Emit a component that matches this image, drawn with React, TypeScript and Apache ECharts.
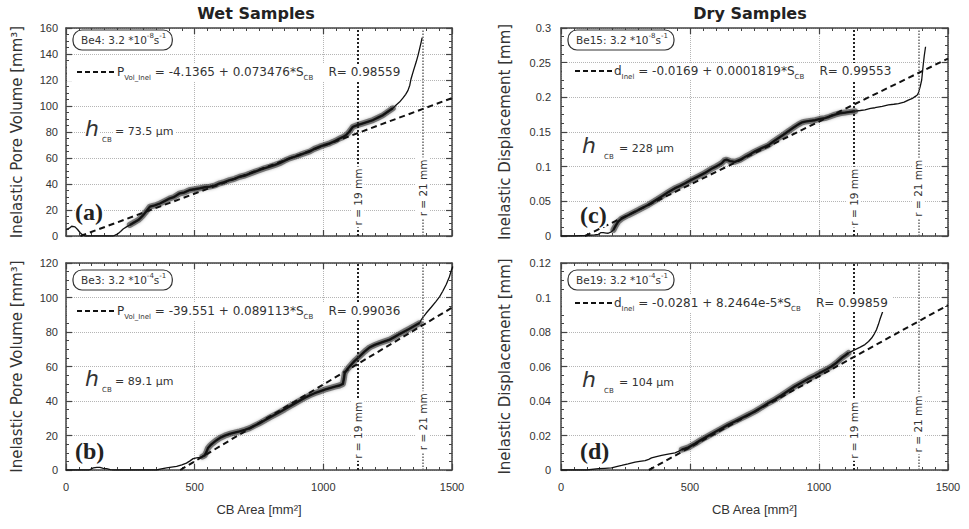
import React, { useEffect, useRef } from "react";
import * as echarts from "echarts";

// ---------- DATA ----------
// Panel (a) Be4, wet: CB area [mm^2] vs inelastic pore volume [mm^3]
const be4Curve: number[][] = [
  [0, 5], [13, 6], [22, 7.5], [35, 7], [45, 5], [55, 2.5], [65, 0.8], [75, 0], [120, 0], [184, 0],
  [195, 1], [203, 2], [212, 3.5], [222, 5.4], [235, 7], [248, 8.5], [265, 10.5], [281, 12.3], [290, 14],
  [300, 16], [312, 19], [326, 22.6], [345, 23.5], [365, 25], [385, 27], [404, 29], [420, 30], [442, 32.8],
  [460, 33.5], [481, 35.4], [500, 36], [520, 36.7], [540, 37.5], [559, 38], [580, 39], [598, 40.5],
  [615, 41.5], [636, 43], [655, 44], [675, 45.6], [695, 46.5], [714, 48], [735, 49.5], [753, 50.8],
  [770, 52], [792, 53.3], [810, 54.5], [830, 56], [850, 58], [869, 59.7], [890, 61], [908, 62.3],
  [925, 63.5], [947, 65], [965, 67], [986, 68.7], [1005, 70], [1025, 71.3], [1045, 73], [1063, 75],
  [1075, 76], [1089, 77.7], [1100, 80], [1115, 84], [1135, 85.5], [1154, 86.7], [1175, 88], [1193, 89.2],
  [1212, 91], [1232, 93], [1250, 95.5], [1270, 98.2], [1283, 100.8], [1296, 103], [1309, 106], [1320, 109],
  [1329, 112], [1336, 116], [1341, 121], [1350, 127], [1361, 134], [1368, 139], [1374, 144], [1380, 149],
  [1384, 152.6],
];
// Panel (c) Be15, dry: CB area vs inelastic displacement [mm]
const be15Curve: number[][] = [
  [0, 0], [50, 0], [106, 0.001], [130, 0.0015], [145, 0.0024], [155, 0.005], [164, 0.005], [175, 0.0042],
  [183, 0.004], [195, 0.006], [203, 0.0087], [212, 0.015], [222, 0.021], [235, 0.025], [260, 0.03],
  [287, 0.035], [313, 0.04], [339, 0.045], [365, 0.051], [390, 0.057], [415, 0.063], [442, 0.069],
  [460, 0.072], [481, 0.076], [505, 0.081], [532, 0.086], [558, 0.091], [584, 0.097], [600, 0.1],
  [623, 0.105], [633, 0.109], [642, 0.11], [655, 0.108], [674, 0.107], [695, 0.11], [713, 0.114],
  [733, 0.118], [752, 0.122], [780, 0.127], [804, 0.131], [822, 0.136], [842, 0.141], [862, 0.146],
  [881, 0.151], [900, 0.156], [920, 0.161], [935, 0.164], [946, 0.165], [965, 0.166], [985, 0.167],
  [1005, 0.169], [1023, 0.17], [1040, 0.172], [1062, 0.175], [1080, 0.177], [1101, 0.178], [1120, 0.179],
  [1140, 0.18], [1160, 0.181], [1178, 0.182], [1200, 0.184], [1217, 0.185], [1245, 0.187], [1269, 0.189],
  [1290, 0.19], [1308, 0.191], [1330, 0.193], [1346, 0.196], [1360, 0.198], [1372, 0.201], [1380, 0.203],
  [1385, 0.206], [1392, 0.215], [1398, 0.225], [1401, 0.236], [1404, 0.247], [1408, 0.26], [1413, 0.273],
];
// Panel (b) Be3, wet
const be3Curve: number[][] = [
  [0, 0], [90, 0], [106, 1.2], [120, 1.5], [132, 1.5], [145, 1], [158, 0.8], [172, 0.2], [184, 0], [250, 0],
  [300, 0], [352, 0], [370, 0.6], [391, 1.2], [410, 1.7], [430, 2.1], [450, 3], [468, 4], [482, 5.3],
  [494, 6.6], [507, 7], [520, 7.3], [530, 7.8], [539, 8.5], [546, 10.5], [552, 12.8], [562, 14.5],
  [572, 15.7], [585, 17.3], [598, 18.6], [617, 19.9], [636, 20.9], [655, 21.7], [675, 22.4], [695, 23.3],
  [714, 24.3], [733, 25.7], [753, 27.2], [772, 28.8], [792, 30.5], [811, 32], [831, 33.6], [850, 35.2],
  [869, 36.9], [888, 38.5], [908, 40.2], [927, 41.8], [947, 43.3], [966, 44.5], [986, 45.6], [1005, 46.6],
  [1025, 47.5], [1045, 48.3], [1063, 49], [1076, 49.9], [1080, 53], [1083, 56.2], [1092, 58.2], [1102, 60],
  [1120, 63], [1141, 65.9], [1160, 68.6], [1180, 71.1], [1200, 72.5], [1219, 73.6], [1238, 74.6],
  [1258, 75.6], [1277, 77.2], [1296, 78.8], [1315, 80.3], [1335, 81.9], [1355, 83.6], [1374, 85.2],
  [1380, 87], [1390, 89], [1400, 91], [1420, 94.5], [1438, 97.8], [1452, 100.5], [1464, 103.6],
  [1478, 107.7], [1490, 112], [1498, 116], [1503, 118],
];
// Panel (d) Be19, dry
const be19Curve: number[][] = [
  [0, 0], [100, 0], [145, 0.0008], [170, 0.001], [196, 0.0012], [215, 0.002], [235, 0.0027], [260, 0.0036],
  [287, 0.0046], [305, 0.005], [326, 0.0054], [340, 0.0062], [351, 0.007], [370, 0.0078], [390, 0.0085],
  [415, 0.0092], [442, 0.0099], [455, 0.0108], [468, 0.0118], [480, 0.0124], [494, 0.0131], [520, 0.0153],
  [545, 0.0176], [571, 0.0198], [597, 0.022], [623, 0.0241], [649, 0.0263], [675, 0.0282], [700, 0.0301],
  [726, 0.032], [752, 0.034], [778, 0.0364], [804, 0.0388], [830, 0.041], [855, 0.0433], [881, 0.0459],
  [907, 0.0485], [933, 0.0507], [959, 0.0529], [985, 0.0548], [1010, 0.0568], [1030, 0.0584],
  [1049, 0.0601], [1068, 0.0622], [1088, 0.0649], [1100, 0.0662], [1114, 0.0678], [1127, 0.0688],
  [1140, 0.0698], [1160, 0.0712], [1178, 0.0727], [1192, 0.0745], [1204, 0.0765], [1214, 0.0788],
  [1223, 0.0814], [1230, 0.0843], [1236, 0.0872], [1246, 0.0915], [1256, 0.0958], [1263, 0.0985],
  [1269, 0.1007],
];

// Panel order: (a) top-left, (c) top-right, (b) bottom-left, (d) bottom-right
const curves = [be4Curve, be15Curve, be3Curve, be19Curve];
const fitIntercepts = [-4.1365, -0.0169, -39.551, -0.0281];
const fitSlopes = [0.073476, 0.0001819, 0.089113, 8.2464e-5];
const fitEquations = [
  " = -4.1365 + 0.073476*S",
  " = -0.0169 + 0.0001819*S",
  " = -39.551 + 0.089113*S",
  " = -0.0281 + 8.2464e-5*S",
];
const fitR = ["0.98559", "0.99553", "0.99036", "0.99859"];
const fitSymbols = ["P", "d", "P", "d"];
const fitSubscripts = ["Vol_Inel", "Inel", "Vol_Inel", "Inel"];
const sampleNames = ["Be4", "Be15", "Be3", "Be19"];
const rateExponents = ["-8", "-8", "-4", "-4"];
const hcbValues = ["= 73.5 µm", "= 228 µm", "= 89.1 µm", "= 104 µm"];
const panelLetters = ["(a)", "(c)", "(b)", "(d)"];
const yMaxes = [160, 0.3, 120, 0.12];
const yIntervals = [20, 0.05, 20, 0.02];
const xMax = 1500;
const xInterval = 500;
const haloRanges = [[240, 1270], [200, 1140], [530, 1374], [468, 1114]];
const ringRadii = [19, 21];
const ringLabels = ["r = 19 mm", "r = 21 mm"];
const ringLabelY = [[30, 37], [0.056, 0.069], [23, 28], [0.023, 0.0267]];
const columnTitles = ["Wet Samples", "Dry Samples"];
const yNames = [
  "Inelastic Pore Volume [mm³]",
  "Inelastic Displacement [mm]",
  "Inelastic Pore Volume [mm³]",
  "Inelastic Displacement [mm]",
];
const xName = "CB Area [mm²]";

// ---------- LAYOUT ----------
const GRIDS = [
  { left: 66, top: 28, width: 386, height: 208 },
  { left: 561, top: 28, width: 387, height: 208 },
  { left: 66, top: 263, width: 386, height: 207 },
  { left: 561, top: 263, width: 387, height: 207 },
];
const ANN = [
  { boxX: 73, boxY: 30, legY: 72, legX1: 77, legX2: 115, legText: 117, hX: 85, hY: 128, subDx: 17, valDx: 28, letX: 75, letY: 212 },
  { boxX: 568, boxY: 30, legY: 71, legX1: 575, legX2: 612, legText: 614, hX: 582, hY: 145, subDx: 22, valDx: 35, letX: 580, letY: 215 },
  { boxX: 73, boxY: 270, legY: 311, legX1: 77, legX2: 115, legText: 117, hX: 85, hY: 378, subDx: 17, valDx: 28, letX: 75, letY: 451 },
  { boxX: 568, boxY: 270, legY: 303, legX1: 575, legX2: 612, legText: 614, hX: 582, hY: 379, subDx: 22, valDx: 35, letX: 580, letY: 451 },
];

const SANS = "DejaVu Sans";
const AX_FONT = "Liberation Sans";
const INK = "#333";
const ringAreas = ringRadii.map((r) => Math.PI * r * r);

let measureCtx: CanvasRenderingContext2D | null = null;
function measure(text: string, size: number, family = SANS, weight = "normal", style = "normal") {
  if (!measureCtx) measureCtx = document.createElement("canvas").getContext("2d");
  if (!measureCtx) return text.length * size * 0.6;
  measureCtx.font = `${style} ${weight} ${size}px "${family}"`;
  return measureCtx.measureText(text).width;
}

function txt(x: number, y: number, text: string, size: number, o: any = {}) {
  return {
    type: "text",
    x,
    y,
    rotation: o.rotation || 0,
    z: 100,
    silent: true,
    style: {
      text,
      fontSize: size,
      fontFamily: o.family || SANS,
      fontWeight: o.weight || "normal",
      fontStyle: o.style || "normal",
      fill: o.color || INK,
      align: o.align || "left",
      textAlign: o.align || "left",
      verticalAlign: "middle",
      textVerticalAlign: "middle",
      backgroundColor: o.bg,
      padding: o.pad,
    },
  };
}

function chain(x: number, y: number, parts: [string, number, number][]) {
  const els: any[] = [];
  let cx = x;
  for (const [t, s, dy] of parts) {
    els.push(txt(cx, y + dy, t, s));
    cx += measure(t, s);
  }
  return { els, end: cx };
}

function buildOption() {
  const xAxis: any[] = [];
  const yAxis: any[] = [];
  const series: any[] = [];
  const graphic: any[] = [];
  const axisLine = { show: true, onZero: false, lineStyle: { color: "#444", width: 1.5 } };
  const axisTick = { show: true, inside: true, length: 6, lineStyle: { color: "#444", width: 1.2 } };
  const minorLine = { color: "#444", width: 1 };

  GRIDS.forEach((g, i) => {
    const bottomRow = i >= 2;
    xAxis.push({
      gridIndex: i, type: "value", min: 0, max: xMax, interval: xInterval, position: "bottom",
      axisLine, axisTick,
      minorTick: { show: true, splitNumber: 10, length: 3, lineStyle: minorLine },
      axisLabel: {
        show: bottomRow, margin: 11, fontSize: 11, color: INK, fontFamily: AX_FONT,
        formatter: (v: number) => String(v),
      },
      splitLine: { show: true, lineStyle: { color: "#b5b5b5", type: "dotted", width: 1 } },
      name: bottomRow ? xName : "", nameLocation: "middle", nameGap: 33,
      nameTextStyle: { fontSize: 13, color: INK, fontFamily: AX_FONT },
    });
    xAxis.push({
      gridIndex: i, type: "value", min: 0, max: xMax, interval: xInterval, position: "top",
      axisLine, axisTick,
      minorTick: { show: true, splitNumber: 10, length: 3, lineStyle: minorLine },
      axisLabel: { show: false }, splitLine: { show: false },
    });
    yAxis.push({
      gridIndex: i, type: "value", min: 0, max: yMaxes[i], interval: yIntervals[i], position: "left",
      axisLine, axisTick,
      minorTick: { show: true, splitNumber: 4, length: 3, lineStyle: minorLine },
      axisLabel: { show: true, margin: i % 2 === 0 ? 8 : 10, fontSize: 11, color: INK, fontFamily: AX_FONT },
      splitLine: { show: true, lineStyle: { color: "#b5b5b5", type: "dotted", width: 1 } },
      name: yNames[i], nameLocation: "middle", nameGap: i % 2 === 0 ? 42 : 49,
      nameTextStyle: { fontSize: 15, color: INK, fontFamily: SANS },
    });
    yAxis.push({
      gridIndex: i, type: "value", min: 0, max: yMaxes[i], interval: yIntervals[i], position: "right",
      axisLine, axisTick,
      minorTick: { show: true, splitNumber: 4, length: 3, lineStyle: minorLine },
      axisLabel: { show: false }, splitLine: { show: false },
    });

    const xi = 2 * i;
    const yi = 2 * i;
    const curve = curves[i];
    const [hLo, hHi] = haloRanges[i];
    const halo = curve.filter((p) => p[0] >= hLo && p[0] <= hHi);
    const a = fitIntercepts[i];
    const b = fitSlopes[i];
    const x0 = Math.max(0, -a / b);
    const fitData = [[x0, a + b * x0], [xMax, a + b * xMax]];

    series.push({
      type: "line", xAxisIndex: xi, yAxisIndex: yi, data: halo, symbol: "none", silent: true, z: 2,
      lineStyle: {
        color: "rgba(40,40,40,0.55)", width: 6, cap: "round", join: "round",
        shadowBlur: 3, shadowColor: "rgba(0,0,0,0.5)",
      },
    });
    series.push({
      type: "line", xAxisIndex: xi, yAxisIndex: yi, data: halo, symbol: "none", silent: true, z: 2,
      lineStyle: { color: "#1a1a1a", width: 2.4, join: "round" },
    });
    series.push({
      type: "line", xAxisIndex: xi, yAxisIndex: yi, data: curve, symbol: "none", silent: true, z: 3,
      lineStyle: { color: "#111", width: 1.3 },
    });
    series.push({
      type: "line", xAxisIndex: xi, yAxisIndex: yi, data: fitData, symbol: "none", silent: true, z: 4,
      lineStyle: { color: "#111", width: 2, type: [6, 4] },
      markLine: {
        symbol: "none", silent: true, label: { show: false }, z: 4,
        data: [
          { xAxis: ringAreas[0], lineStyle: { color: "#222", width: 2, type: "dotted" } },
          { xAxis: ringAreas[1], lineStyle: { color: "#666", width: 1.5, type: "dotted" } },
        ],
      },
    });

    // ----- annotations -----
    const A = ANN[i];
    const boxParts: [string, number, number][] = [
      [`${sampleNames[i]}: 3.2 *10`, 10.5, 0],
      [rateExponents[i], 7, -4],
      ["s", 10.5, 0],
      ["-1", 7, -4],
    ];
    const boxText = chain(A.boxX + 8, A.boxY + 10, boxParts);
    graphic.push({
      type: "rect", z: 99, silent: true,
      shape: { x: A.boxX, y: A.boxY, width: boxText.end - A.boxX + 6, height: 20, r: 9 },
      style: { fill: "#fff", stroke: "#333", lineWidth: 1.2 },
    });
    graphic.push(...boxText.els);

    const legParts: [string, number, number][] = [
      [fitSymbols[i], 12, 0],
      [fitSubscripts[i], 7, 6],
      [fitEquations[i], 12, 0],
      ["CB", 7, 6],
      [`    R= ${fitR[i]}`, 12, 0],
    ];
    const leg = chain(A.legText, A.legY, legParts);
    graphic.push({
      type: "rect", z: 98, silent: true,
      shape: { x: g.left + 1, y: A.legY - 8, width: leg.end - g.left + 4, height: 17 },
      style: { fill: "#fff" },
    });
    graphic.push({
      type: "line", z: 100, silent: true,
      shape: { x1: A.legX1, y1: A.legY, x2: A.legX2, y2: A.legY },
      style: { stroke: "#111", lineWidth: 2, lineDash: [5, 3] },
    });
    graphic.push(...leg.els);

    graphic.push(txt(A.hX, A.hY, "h", 22, { style: "italic", bg: "#fff" }));
    graphic.push(txt(A.hX + A.subDx, A.hY + 12, "CB", 7, { bg: "#fff" }));
    graphic.push(txt(A.hX + A.valDx, A.hY + 3, hcbValues[i], 11, { bg: "#fff", pad: [1, 2] }));

    graphic.push(txt(A.letX, A.letY, panelLetters[i], 24, { family: "Liberation Serif", weight: "bold", color: "#222", bg: "#fff" }));
  });

  graphic.push(txt(256, 13, columnTitles[0], 16, { weight: "bold", align: "center", color: "#222" }));
  graphic.push(txt(750, 13, columnTitles[1], 16, { weight: "bold", align: "center", color: "#222" }));

  return {
    animation: false,
    backgroundColor: "#fff",
    grid: GRIDS.map((g) => ({ ...g, containLabel: false })),
    xAxis,
    yAxis,
    series,
    graphic: { elements: graphic },
  };
}

export default function App() {
  const ref = useRef<HTMLDivElement>(null);
  useEffect(() => {
    if (!ref.current) return;
    const chart = echarts.init(ref.current, undefined, { renderer: "svg" });
    const option: any = buildOption();
    chart.setOption(option);
    // ring-radius labels, placed through the axes' own scales
    const ringEls: any[] = [];
    GRIDS.forEach((_, i) => {
      ringAreas.forEach((area, k) => {
        const p = chart.convertToPixel({ xAxisIndex: 2 * i, yAxisIndex: 2 * i } as any, [area, ringLabelY[i][k]]) as number[];
        if (!p) return;
        ringEls.push(
          txt(p[0], p[1], ringLabels[k], 10.5, { align: "center", rotation: Math.PI / 2, bg: "#fff", pad: [1, 2] })
        );
      });
    });
    chart.setOption({ graphic: { elements: [...option.graphic.elements, ...ringEls] } });
    return () => chart.dispose();
  }, []);
  return <div ref={ref} style={{ position: "absolute", left: 0, top: 0, width: 969, height: 529 }} />;
}
